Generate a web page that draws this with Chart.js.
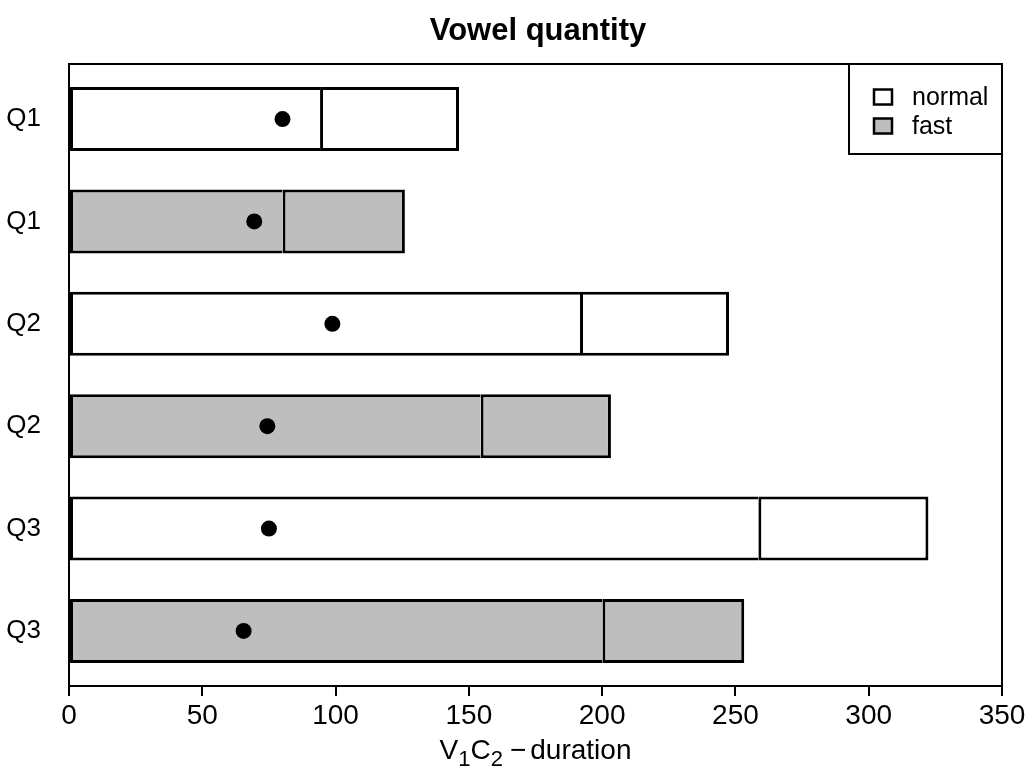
<!DOCTYPE html>
<html>
<head>
<meta charset="utf-8">
<script src="https://cdn.jsdelivr.net/npm/chart.js@4.4.1/dist/chart.umd.min.js"></script>
<style>
  html, body { margin: 0; padding: 0; background: #ffffff; }
  #wrap { width: 1036px; height: 771px; }
  canvas { display: block; }
</style>
</head>
<body>
<div id="wrap"><canvas id="c" width="1036" height="771"></canvas></div>
<script>
// ---- data ----
const rowLabels   = ['Q1', 'Q1', 'Q2', 'Q2', 'Q3', 'Q3'];
const rowSpeed    = ['normal', 'fast', 'normal', 'fast', 'normal', 'fast'];
const v1Duration  = [94.2, 80.1, 191.7, 154.4, 258.6, 200.1];
const c2Duration  = [52.1, 45.9, 55.9, 48.9, 63.8, 53.2];
const dotValues   = [80.1, 69.5, 98.8, 74.4, 75.0, 65.5];
const xTicks      = [0, 50, 100, 150, 200, 250, 300, 350];
const legendLabels = ['normal', 'fast'];
const titleText   = 'Vowel quantity';
const xLabelParts = [
  { text: 'V' }, { text: '1', sub: true }, { text: 'C' }, { text: '2', sub: true },
  { text: '\u2212', gap: 7 }, { text: 'duration', gap: 4 }
];

// ---- styles ----
const speedColors = { normal: '#FFFFFF', fast: '#BEBEBE' };
const FONT = '"Liberation Sans", Arial, Helvetica, sans-serif';
const BW = 3;

const decor = {
  id: 'rdecor',
  afterDraw(chart) {
    const ctx = chart.ctx;
    const a = chart.chartArea;
    ctx.save();
    // plot box
    ctx.strokeStyle = '#000';
    ctx.lineWidth = 2;
    ctx.strokeRect(a.left, a.top, a.right - a.left, a.bottom - a.top);

    // title
    ctx.fillStyle = '#000';
    ctx.font = 'bold 31px ' + FONT;
    ctx.textAlign = 'center';
    ctx.textBaseline = 'alphabetic';
    ctx.fillText(titleText, (a.left + a.right) / 2 + 2.5, 39.5);

    // x label with subscripts
    const mainF = '28px ' + FONT, subF = '22px ' + FONT;
    let total = 0;
    const widths = xLabelParts.map(p => {
      ctx.font = p.sub ? subF : mainF;
      const w = ctx.measureText(p.text).width;
      total += w + (p.gap || 0);
      return w;
    });
    let x = (a.left + a.right) / 2 - total / 2;
    const base = 758.5;
    ctx.textAlign = 'left';
    xLabelParts.forEach((p, i) => {
      x += (p.gap || 0);
      ctx.font = p.sub ? subF : mainF;
      ctx.fillText(p.text, x, p.sub ? base + 7 : base);
      x += widths[i];
    });

    // legend (top right, inside plot)
    const lw = 153, lh = 90;
    const lx = a.right - lw, ly = a.top;
    ctx.fillStyle = '#fff';
    ctx.fillRect(lx, ly, lw, lh);
    ctx.strokeStyle = '#000';
    ctx.lineWidth = 2;
    ctx.strokeRect(lx, ly, lw, lh);
    ctx.font = '25px ' + FONT;
    legendLabels.forEach((lab, i) => {
      const cy = ly + 33 + i * 29;
      ctx.fillStyle = speedColors[lab];
      ctx.fillRect(lx + 25, cy - 7.5, 18, 15);
      ctx.lineWidth = 2.5;
      ctx.strokeRect(lx + 25, cy - 7.5, 18, 15);
      ctx.fillStyle = '#000';
      ctx.textBaseline = 'alphabetic';
      ctx.fillText(lab, lx + 63, cy + 8);
    });
    ctx.restore();
  }
};

new Chart(document.getElementById('c'), {
  type: 'bar',
  data: {
    datasets: [
      {
        type: 'scatter',
        label: 'mean',
        order: -1,
        data: dotValues.map((v, i) => ({ x: v, y: i })),
        pointRadius: 8,
        pointHoverRadius: 8,
        backgroundColor: '#000',
        borderWidth: 0
      },
      {
        label: 'V1',
        data: v1Duration.map((v, i) => ({ x: v, y: i })),
        backgroundColor: rowSpeed.map(s => speedColors[s]),
        borderColor: '#000',
        borderWidth: { top: BW, right: 0, bottom: BW, left: BW },
        borderSkipped: false,
        barPercentage: 0.625,
        categoryPercentage: 1
      },
      {
        label: 'C2',
        data: c2Duration.map((v, i) => ({ x: v, y: i })),
        backgroundColor: rowSpeed.map(s => speedColors[s]),
        borderColor: '#000',
        borderWidth: { top: BW, right: BW, bottom: BW, left: BW },
        borderSkipped: false,
        barPercentage: 0.625,
        categoryPercentage: 1
      }
    ]
  },
  options: {
    indexAxis: 'y',
    responsive: false,
    animation: false,
    devicePixelRatio: 1,
    layout: { padding: { top: 64, right: 34, bottom: 0, left: 0 } },
    plugins: {
      legend: { display: false },
      title: { display: false },
      tooltip: { enabled: false }
    },
    scales: {
      x: {
        type: 'linear',
        stacked: true,
        offset: false,
        min: 0,
        max: 350,
        afterBuildTicks: s => { s.ticks = xTicks.map(v => ({ value: v })); },
        afterFit: s => { s.height = 85; },
        ticks: { color: '#000', font: { family: FONT, size: 28 }, padding: 3, maxRotation: 0, autoSkip: false },
        grid: { display: true, drawOnChartArea: false, drawTicks: true, tickLength: 10, color: '#000', lineWidth: 2 },
        border: { display: false }
      },
      y: {
        type: 'linear',
        stacked: true,
        offset: false,
        reverse: true,
        min: -0.5375,
        max: 5.5375,
        afterBuildTicks: s => { s.ticks = rowLabels.map((_, i) => ({ value: i })); },
        afterFit: s => { s.width = 69; },
        ticks: {
          color: '#000', font: { family: FONT, size: 26 }, padding: 20, autoSkip: false,
          callback: v => (rowLabels[v] !== undefined ? rowLabels[v] : '')
        },
        grid: { display: false },
        border: { display: false }
      }
    }
  },
  plugins: [decor]
});
</script>
</body>
</html>
